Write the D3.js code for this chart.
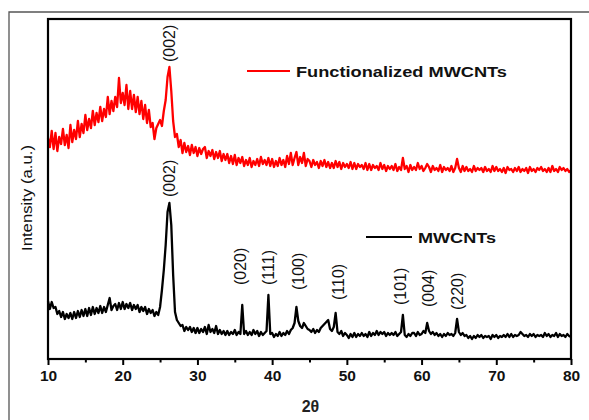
<!DOCTYPE html>
<html>
<head>
<meta charset="utf-8">
<script src="https://cdn.jsdelivr.net/npm/d3@7"></script>
<style>
  body { margin: 0; background: #fff; }
  svg { display: block; }
  text { font-family: Arial, "Liberation Sans", sans-serif; }
</style>
</head>
<body>
<svg id="chart"></svg>
<script>
// 2-theta grid (deg), shared by both patterns
const theta = [
  10,10.25,10.5,10.75,11,11.25,11.5,11.75,12,12.25,12.5,12.75,13,13.25,13.5,13.75,14,14.25,14.5,14.75,
  15,15.25,15.5,15.75,16,16.25,16.5,16.75,17,17.25,17.5,17.75,18,18.25,18.5,18.75,19,19.25,19.5,19.75,
  20,20.25,20.5,20.75,21,21.25,21.5,21.75,22,22.25,22.5,22.75,23,23.25,23.5,23.75,24,24.25,24.5,24.75,
  25,25.25,25.5,25.75,26,26.25,26.5,26.75,27,27.25,27.5,27.75,28,28.25,28.5,28.75,29,29.25,29.5,29.75,
  30,30.25,30.5,30.75,31,31.25,31.5,31.75,32,32.25,32.5,32.75,33,33.25,33.5,33.75,34,34.25,34.5,34.75,
  35,35.25,35.5,35.75,36,36.25,36.5,36.75,37,37.25,37.5,37.75,38,38.25,38.5,38.75,39,39.25,39.5,39.75,
  40,40.25,40.5,40.75,41,41.25,41.5,41.75,42,42.25,42.5,42.75,43,43.25,43.5,43.75,44,44.25,44.5,44.75,
  45,45.25,45.5,45.75,46,46.25,46.5,46.75,47,47.25,47.5,47.75,48,48.25,48.5,48.75,49,49.25,49.5,49.75,
  50,50.25,50.5,50.75,51,51.25,51.5,51.75,52,52.25,52.5,52.75,53,53.25,53.5,53.75,54,54.25,54.5,54.75,
  55,55.25,55.5,55.75,56,56.25,56.5,56.75,57,57.25,57.5,57.75,58,58.25,58.5,58.75,59,59.25,59.5,59.75,
  60,60.25,60.5,60.75,61,61.25,61.5,61.75,62,62.25,62.5,62.75,63,63.25,63.5,63.75,64,64.25,64.5,64.75,
  65,65.25,65.5,65.75,66,66.25,66.5,66.75,67,67.25,67.5,67.75,68,68.25,68.5,68.75,69,69.25,69.5,69.75,
  70,70.25,70.5,70.75,71,71.25,71.5,71.75,72,72.25,72.5,72.75,73,73.25,73.5,73.75,74,74.25,74.5,74.75,
  75,75.25,75.5,75.75,76,76.25,76.5,76.75,77,77.25,77.5,77.75,78,78.25,78.5,78.75,79,79.25,79.5,79.75,
  80
];

// Functionalized MWCNTs (offset pattern, a.u.)
const funcMWCNT = [
  221,212,228,210, 226,208,222,215, 230,214,224,211, 234,217,229,220, 238,222,235,226,
  244,229,240,231, 248,234,246,237, 252,238,250,242, 262,245,258,248, 262,252,281,256,
  266,254,274,250, 268,250,264,247, 262,245,258,240, 254,236,249,232, 236,220,231,235,
  239,233,248,259, 282,292,268,238, 222,225,212,219, 206,216,207,213, 204,214,206,212,
  203,211,205,210, 212,201,208,203, 209,200,207,201, 208,198,205,199, 205,196,203,195,
  204,194,201,196, 202,193,199,194, 201,192,198,194, 200,193,202,195, 199,194,201,193,
  200,192,198,193, 201,194,199,192, 203,195,206,194, 201,207,194,202, 196,206,193,200,
  198,192,199,194, 197,191,198,193, 199,192,197,191, 196,191,198,192, 197,190,196,192,
  195,191,197,190, 196,190,195,192, 194,190,196,189, 195,189,194,191, 193,189,196,190,
  194,188,193,190, 193,189,195,188, 192,189,201,190, 193,187,194,189, 192,189,196,190,
  193,188,191,195, 192,187,193,189, 191,188,194,187, 192,189,191,188, 193,187,191,200,
  191,187,193,188, 192,188,190,187, 193,188,191,189, 191,187,192,188, 190,187,193,188,
  192,188,190,187, 191,186,192,189, 190,187,191,188, 192,187,190,188, 191,186,192,188,
  190,187,191,189, 192,188,190,187, 191,187,193,188, 190,187,192,189, 191,188,190,187,
  189
];

// pristine MWCNTs (a.u.)
const mwcnt = [
  58,50,57,51, 52,45,48,42, 47,40,45,41, 46,40,47,41, 48,42,49,43,
  50,43,51,44, 52,45,51,46, 53,46,52,47, 54,61,49,53, 55,49,56,50,
  57,50,55,51, 56,49,54,50, 54,47,52,48, 52,45,50,46, 49,43,47,44,
  52,69,89,114, 147,156,134,84, 47,39,36,33, 34,28,32,29, 32,27,31,26,
  31,26,30,27, 32,25,34,27, 30,26,33,25, 29,25,28,24, 28,24,27,25,
  29,24,27,25, 54,25,28,24, 27,24,29,25, 28,23,27,24, 26,28,64,25,
  26,22,25,23, 27,23,26,24, 28,25,29,31, 36,52,38,33, 31,36,33,30,
  29,27,30,26, 29,27,31,33, 35,37,39,30, 28,32,46,27, 25,28,23,26,
  24,21,25,22, 26,22,25,23, 26,23,25,22, 27,23,26,24, 28,24,27,25,
  27,23,26,24, 26,24,27,23, 25,27,44,24, 22,25,23,26, 26,23,27,24,
  25,28,26,36, 28,25,27,24, 26,23,25,22, 25,23,26,24, 25,23,26,40,
  27,24,26,23, 24,21,23,20, 23,21,24,22, 24,21,23,22, 23,20,24,22,
  24,21,23,22, 24,22,25,22, 25,22,24,23, 24,27,25,23, 24,22,25,23,
  25,22,24,23, 24,22,26,23, 25,22,24,23, 26,22,25,23, 24,22,25,23,
  22
];

const xMajor = [10, 20, 30, 40, 50, 60, 70, 80];
const xMinor = [15, 25, 35, 45, 55, 65, 75];

// hkl labels: text, 2-theta, intensity where the label starts
const peakText  = ["(002)", "(002)", "(020)", "(111)", "(100)", "(110)", "(101)", "(004)", "(220)"];
const peakTheta = [26.2, 26.2, 35.7, 39.45, 43.5, 48.8, 57.1, 60.9, 64.75];
const peakBase  = [297, 162, 74, 74, 69, 59, 54, 52, 49];

const W = 589, H = 420;
const margin = {left: 48, top: 19, right: 18, bottom: 61};

const svg = d3.select("#chart").attr("width", W).attr("height", H);

// outer figure border
svg.append("path")
  .attr("d", `M9,${H} V12 H${W}`)
  .attr("fill", "none")
  .attr("stroke", "#555")
  .attr("stroke-width", 1.3);

const x = d3.scaleLinear().domain([10, 80]).range([margin.left, W - margin.right]);
const y = d3.scaleLinear().domain([0, 340]).range([H - margin.bottom, margin.top]);

const line = d3.line()
  .x((d, i) => x(theta[i]))
  .y(d => y(d));

svg.append("path")
  .datum(funcMWCNT)
  .attr("d", line)
  .attr("fill", "none")
  .attr("stroke", "#ff0000")
  .attr("stroke-width", 2.3)
  .attr("stroke-linejoin", "round");

svg.append("path")
  .datum(mwcnt)
  .attr("d", line)
  .attr("fill", "none")
  .attr("stroke", "#000")
  .attr("stroke-width", 2.3)
  .attr("stroke-linejoin", "round");

// axes
const xAxis = svg.append("g")
  .attr("transform", `translate(0,${y(0)})`)
  .call(d3.axisBottom(x).tickValues(xMajor).tickSize(6).tickPadding(5));
xAxis.select(".domain").remove();
xAxis.selectAll(".tick line").attr("stroke-width", 2);
xAxis.selectAll(".tick text")
  .attr("font-size", 15.5).attr("font-weight", "bold")
  .attr("font-family", "Arial, 'Liberation Sans', sans-serif")
  .attr("fill", "#111");

const xAxisMinor = svg.append("g")
  .attr("transform", `translate(0,${y(0)})`)
  .call(d3.axisBottom(x).tickValues(xMinor).tickSize(3.5).tickFormat(""));
xAxisMinor.select(".domain").remove();
xAxisMinor.selectAll(".tick line").attr("stroke-width", 2);

// plot frame
svg.append("rect")
  .attr("x", x(10)).attr("y", y(340))
  .attr("width", x(80) - x(10)).attr("height", y(0) - y(340))
  .attr("fill", "none")
  .attr("stroke", "#000")
  .attr("stroke-width", 2.2);

// axis titles
svg.append("text")
  .attr("x", (x(10) + x(80)) / 2 + 1).attr("y", 412)
  .attr("text-anchor", "middle")
  .attr("font-family", "'Liberation Serif', 'Times New Roman', serif")
  .attr("font-weight", "bold")
  .attr("font-size", 16)
  .attr("fill", "#222")
  .text("2θ");

svg.append("text")
  .attr("transform", "translate(32,198) rotate(-90)")
  .attr("text-anchor", "middle")
  .attr("font-size", 15)
  .attr("textLength", 106)
  .attr("lengthAdjust", "spacingAndGlyphs")
  .attr("fill", "#111")
  .text("Intensity (a.u.)");

// peak labels
svg.append("g").selectAll("text")
  .data(peakText)
  .join("text")
    .attr("transform", (d, i) => `translate(${x(peakTheta[i])},${y(peakBase[i])}) rotate(-90)`)
    .attr("dy", "0.36em")
    .attr("font-size", 16)
    .attr("fill", "#111")
    .text(d => d);

// legends
const legend = [
  {label: "Functionalized MWCNTs", col: "#ff0000", x1: 247, x2: 290, yy: 71, len: 211},
  {label: "MWCNTs", col: "#000", x1: 366, x2: 412, yy: 237, len: 78}
];
legend.forEach(l => {
  svg.append("line")
    .attr("x1", l.x1).attr("x2", l.x2).attr("y1", l.yy).attr("y2", l.yy)
    .attr("stroke", l.col).attr("stroke-width", 2.2);
  svg.append("text")
    .attr("x", l.x2 + 6).attr("y", l.yy + 6)
    .attr("font-size", 15).attr("font-weight", "bold")
    .attr("textLength", l.len).attr("lengthAdjust", "spacingAndGlyphs")
    .attr("fill", "#111")
    .text(l.label);
});
</script>
</body>
</html>
